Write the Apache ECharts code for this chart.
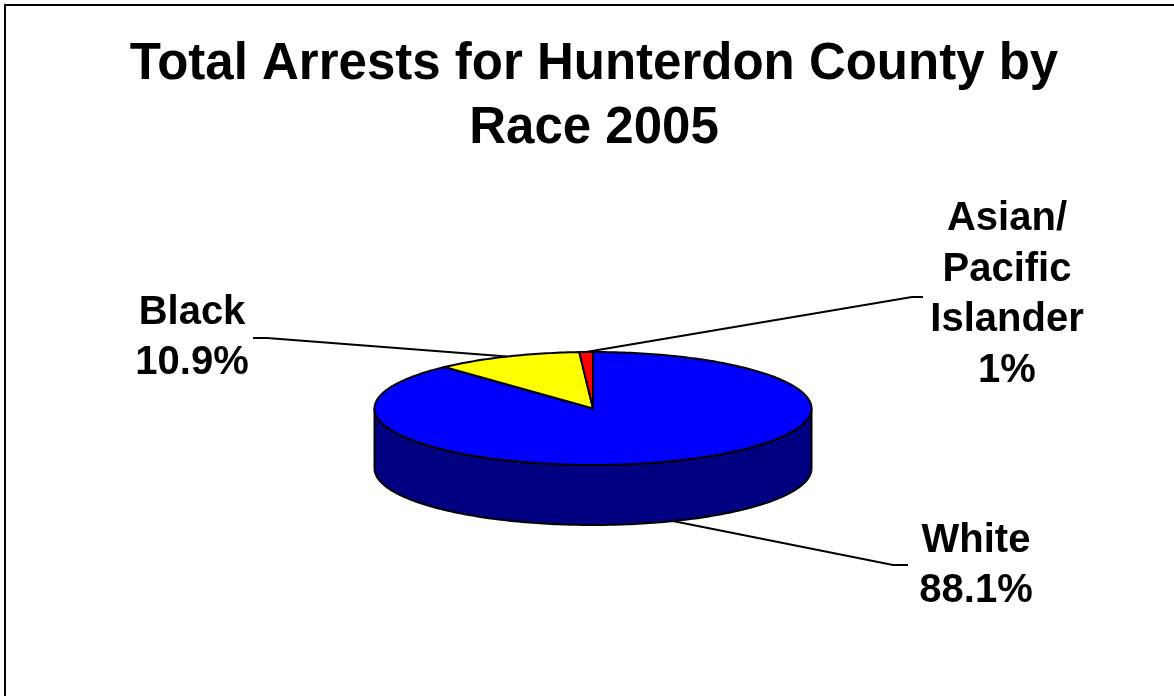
<!DOCTYPE html>
<html><head><meta charset="utf-8">
<script src="https://cdn.jsdelivr.net/npm/echarts@6/dist/echarts.min.js"></script>
<style>html,body{margin:0;padding:0;background:#fff}#chart{width:1174px;height:696px}</style>
</head><body><div id="chart"></div>
<script>
// ---- data ----
const categories = ['White', 'Black', 'Asian/\nPacific\nIslander'];
const values = [88.1, 10.9, 1];
const topColors = ['#0000FF', '#FFFF00', '#FF0000'];
const sideColors = ['#000080', '#808000', '#800000'];
const titleText = 'Total Arrests for Hunterdon County by\nRace 2005';

// ---- layout ----
const FONT = '"Liberation Sans", Arial, Helvetica, sans-serif';
const PIE = {cx: 593, cy: 408.5, rx: 218.5, ry: 56.5, depth: 60};
const LABELS = [
  {x: 976, y: 566, anchor: [908, 565], elbow: [893, 565]},
  {x: 192, y: 338, anchor: [253, 338], elbow: [267, 338]},
  {x: 1007, y: 295, anchor: [923, 297], elbow: [912, 297]}
];
const total = values.reduce((a, b) => a + b, 0);

function pt(deg, dz) {
  const r = deg * Math.PI / 180;
  return [PIE.cx + PIE.rx * Math.sin(r), PIE.cy - PIE.ry * Math.cos(r) + (dz || 0)];
}
function arc(a, b, dz) {
  const pts = [];
  const n = Math.max(2, Math.ceil(Math.abs(b - a)));
  for (let k = 0; k <= n; k++) pts.push(pt(a + (b - a) * k / n, dz));
  return pts;
}

function renderItem(params, api) {
  const i = params.dataIndex;
  const v = api.value(1);
  let before = 0;
  for (let k = 0; k < i; k++) before += values[k];
  const a0 = before / total * 360, a1 = (before + v) / total * 360;
  const children = [];
  // visible outer wall (front half: 90..270 deg clockwise from top)
  const s0 = Math.max(a0, 90), s1 = Math.min(a1, 270);
  if (s1 > s0) {
    const pts = arc(s0, s1, 0).concat(arc(s1, s0, PIE.depth));
    children.push({type: 'polygon', z2: 1, shape: {points: pts},
      style: {fill: sideColors[i], stroke: '#000', lineWidth: 2, lineJoin: 'round'}});
  }
  // top face
  const topPts = [[PIE.cx, PIE.cy]].concat(arc(a0, a1, 0));
  children.push({type: 'polygon', z2: 2, shape: {points: topPts},
    style: {fill: topColors[i], stroke: '#000', lineWidth: 2, lineJoin: 'round'}});
  // leader line
  const mid = (a0 + a1) / 2;
  const front = Math.cos(mid * Math.PI / 180) < 0;
  const end = pt(mid, front ? PIE.depth : 0);
  const L = LABELS[i];
  children.push({type: 'polyline', z2: 3, shape: {points: [L.anchor, L.elbow, end]},
    style: {stroke: '#000', lineWidth: 2, fill: null}});
  // label
  children.push({type: 'text', z2: 4, x: L.x, y: L.y,
    style: {text: categories[i] + '\n' + v + '%', fill: '#000',
      font: 'bold 40px ' + FONT, lineHeight: 50.5,
      textAlign: 'center', textVerticalAlign: 'middle'}});
  return {type: 'group', children: children};
}

const chart = echarts.init(document.getElementById('chart'), null, {renderer: 'canvas'});
chart.setOption({
  backgroundColor: '#fff',
  animation: false,
  graphic: [
    {type: 'rect', shape: {x: 5, y: 5, width: 1200, height: 800},
      style: {fill: 'none', stroke: '#000', lineWidth: 2}},
    {type: 'text', x: 594, y: 33,
      style: {text: titleText, fill: '#000', font: 'bold 51px ' + FONT,
        lineHeight: 64, textAlign: 'center', textVerticalAlign: 'top'}}
  ],
  series: [{
    type: 'custom',
    coordinateSystem: 'none',
    renderItem: renderItem,
    data: values.map((v, i) => [i, v])
  }]
});
</script></body></html>
